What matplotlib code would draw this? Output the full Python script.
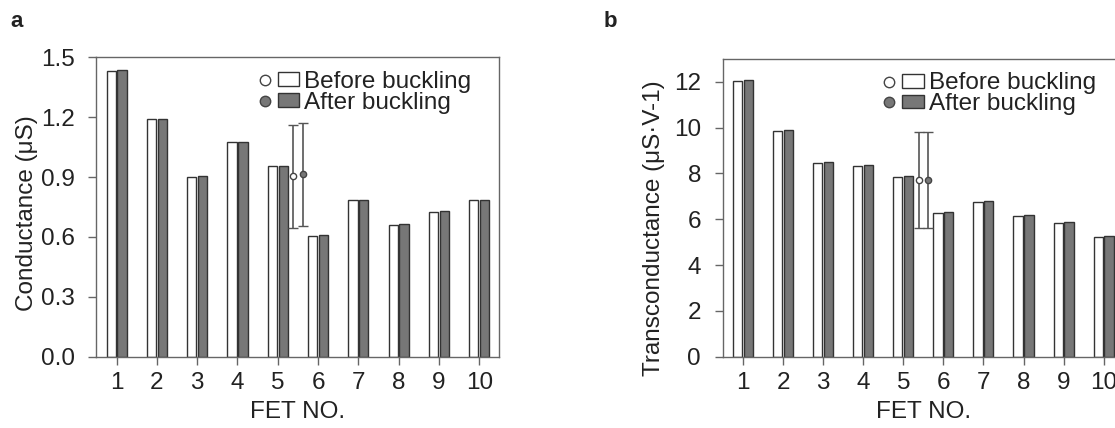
import numpy as np
import matplotlib
matplotlib.use("Agg")
import matplotlib.pyplot as plt
from matplotlib.lines import Line2D
from matplotlib.patches import Patch
from matplotlib.legend_handler import HandlerTuple

# data
fet_no = [1, 2, 3, 4, 5, 6, 7, 8, 9, 10]

cond_before = [1.433, 1.190, 0.900, 1.075, 0.953, 0.607, 0.785, 0.660, 0.726, 0.785]
cond_after = [1.438, 1.192, 0.905, 1.077, 0.957, 0.610, 0.787, 0.663, 0.728, 0.787]
cond_mean = [0.904, 0.913]   # before, after
cond_err = [0.258, 0.258]

trans_before = [12.02, 9.86, 8.46, 8.31, 7.84, 6.29, 6.77, 6.14, 5.85, 5.22]
trans_after = [12.08, 9.90, 8.51, 8.36, 7.88, 6.34, 6.81, 6.18, 5.88, 5.25]
trans_mean = [7.715, 7.715]
trans_err = [2.105, 2.105]

labels = ["Before buckling", "After buckling"]

# style
plt.rcParams["font.family"] = ["Liberation Sans", "DejaVu Sans"]
text_col = "#222222"
spine_col = "#666666"
edge_col = "#333333"
gray_fill = "#777777"
fs = 17.5

bar_w = 0.23
offset = 0.135
mean_x = [5.38, 5.62]


def draw_panel(ax, before, after, mean, err, ylim, yticks, ylabel, yfmt, ylabel_y):
    x = np.array(fet_no)
    ax.bar(x - offset, before, width=bar_w, color="white", edgecolor=edge_col, linewidth=1.0)
    ax.bar(x + offset, after, width=bar_w, color=gray_fill, edgecolor=edge_col, linewidth=1.0)

    # mean +/- sd markers
    ax.errorbar(mean_x[0], mean[0], yerr=err[0], fmt="o", ms=4.5, mfc="white", mec="#444444",
                mew=1.0, ecolor="#555555", elinewidth=1.2, capsize=3.5, capthick=1.2)
    ax.errorbar(mean_x[1], mean[1], yerr=err[1], fmt="o", ms=4.5, mfc=gray_fill, mec="#444444",
                mew=1.0, ecolor="#555555", elinewidth=1.2, capsize=3.5, capthick=1.2)

    ax.set_xlim(0.5, 10.5)
    ax.set_ylim(*ylim)
    ax.set_xticks(fet_no)
    ax.set_yticks(yticks)
    ax.set_yticklabels([yfmt.format(v) for v in yticks])
    ax.tick_params(axis="both", direction="out", colors=spine_col, labelcolor=text_col,
                   labelsize=fs, length=5.8, width=1.0)
    ax.tick_params(axis="y", pad=10)
    ax.tick_params(axis="x", pad=5)
    for s in ax.spines.values():
        s.set_color(spine_col)
        s.set_linewidth(1.0)

    ax.set_xlabel("FET NO.", fontsize=fs, color=text_col, labelpad=5)
    ax.set_ylabel(ylabel, fontsize=fs, color=text_col, labelpad=1)
    ax.yaxis.set_label_coords(-0.145, ylabel_y)

    h_before = (Line2D([], [], ls="none", marker="o", ms=7.5, mfc="white", mec="#444444", mew=1.0),
                Patch(facecolor="white", edgecolor=edge_col, linewidth=1.0))
    h_after = (Line2D([], [], ls="none", marker="o", ms=7.5, mfc=gray_fill, mec="#444444", mew=1.0),
               Patch(facecolor=gray_fill, edgecolor=edge_col, linewidth=1.0))
    leg = ax.legend([h_before, h_after], labels,
                    handler_map={tuple: HandlerTuple(ndivide=None, pad=0.1)},
                    frameon=False, loc="upper right", bbox_to_anchor=(0.93, 0.955),
                    fontsize=fs, handlelength=1.85, handleheight=0.5, handletextpad=0.2,
                    labelspacing=-0.05, borderpad=0, borderaxespad=0)
    for t in leg.get_texts():
        t.set_color(text_col)


fig = plt.figure(figsize=(11.15, 4.28), dpi=100)

ax_a = fig.add_axes([0.0865, 0.1666, 0.3614, 0.6995])
draw_panel(ax_a, cond_before, cond_after, cond_mean, cond_err, (0, 1.5),
           [0.0, 0.3, 0.6, 0.9, 1.2, 1.5], "Conductance (\u03bcS)", "{:.1f}", 0.48)

ax_b = fig.add_axes([0.6484, 0.1666, 0.3594, 0.6956])
draw_panel(ax_b, trans_before, trans_after, trans_mean, trans_err, (0, 13),
           [0, 2, 4, 6, 8, 10, 12], "Transconductance (\u03bcS\u00b7V-1)", "{:d}", 0.43)

fig.text(10 / 1115, 1 - 27 / 428, "a", fontsize=16, fontweight="bold", color=text_col)
fig.text(604 / 1115, 1 - 27 / 428, "b", fontsize=16, fontweight="bold", color=text_col)

fig.savefig("out.png", dpi=100)
